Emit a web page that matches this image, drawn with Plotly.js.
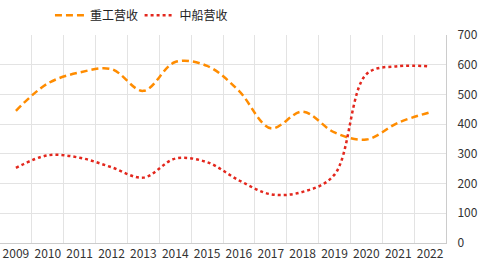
<!DOCTYPE html>
<html><head><meta charset="utf-8">
<script src="https://cdn.plot.ly/plotly-3.0.1.min.js"></script>
<style>html,body{margin:0;padding:0;background:#fff}#chart{width:484px;height:270px}</style>
</head><body><div id="chart"></div>
<script>
var years = ['2009','2010','2011','2012','2013','2014','2015','2016','2017','2018','2019','2020','2021','2022'];
var heavyRevenue = [445, 537, 574, 585, 512, 609, 596, 512, 386, 442, 372, 348, 405, 440];
var shipRevenue  = [253, 295, 287, 255, 220, 284, 272, 211, 164, 172, 230, 568, 595, 594];
var seriesNames = ['重工营收', '中船营收'];
var yTicks = [0, 100, 200, 300, 400, 500, 600, 700];

var idx = years.map(function(_, i){ return i; });
var font = 'Noto Sans CJK SC, Microsoft YaHei, sans-serif';

var traces = [
  {x: idx, y: heavyRevenue, name: seriesNames[0], type: 'scatter', mode: 'lines', legend: 'legend',
   line: {color: '#ff8c00', width: 2.5, dash: '7px,4px', shape: 'spline', smoothing: 1}},
  {x: idx, y: shipRevenue, name: seriesNames[1], type: 'scatter', mode: 'lines', legend: 'legend2',
   line: {color: '#e3271d', width: 2.5, dash: '3px,3px', shape: 'spline', smoothing: 1}}
];

function leg(x) {
  return {orientation: 'h', x: x, y: 1.165, xanchor: 'left', yanchor: 'top',
          font: {family: font, size: 12, color: '#222'}, itemwidth: 30,
          bgcolor: 'rgba(0,0,0,0)'};
}

var layout = {
  width: 484, height: 270,
  margin: {l: 0, r: 38, t: 35, b: 27},
  paper_bgcolor: '#fff', plot_bgcolor: '#fff',
  font: {family: font, size: 12, color: '#333'},
  showlegend: true,
  legend: leg(0.112),
  legend2: leg(0.313),
  xaxis: {range: [-0.5, 13.5], tickmode: 'array', tickvals: idx, ticktext: years,
          showgrid: false, zeroline: false, showline: true, linecolor: '#ccc', linewidth: 1,
          ticks: '', fixedrange: true, tickfont: {size: 12, color: '#333'},
          minor: {tickmode: 'linear', tick0: 0.5, dtick: 1, showgrid: true, gridcolor: '#e3e3e3', gridwidth: 1}},
  yaxis: {side: 'right', range: [0, 700], tickmode: 'array', tickvals: yTicks,
          showgrid: true, gridcolor: '#e3e3e3', gridwidth: 1, zeroline: false,
          showline: true, linecolor: '#ccc', linewidth: 1, ticks: '',
          ticklabelstandoff: 8, tickfont: {size: 12, color: '#333'}}
};

Plotly.newPlot('chart', traces, layout, {displayModeBar: false, staticPlot: true});
</script></body></html>
